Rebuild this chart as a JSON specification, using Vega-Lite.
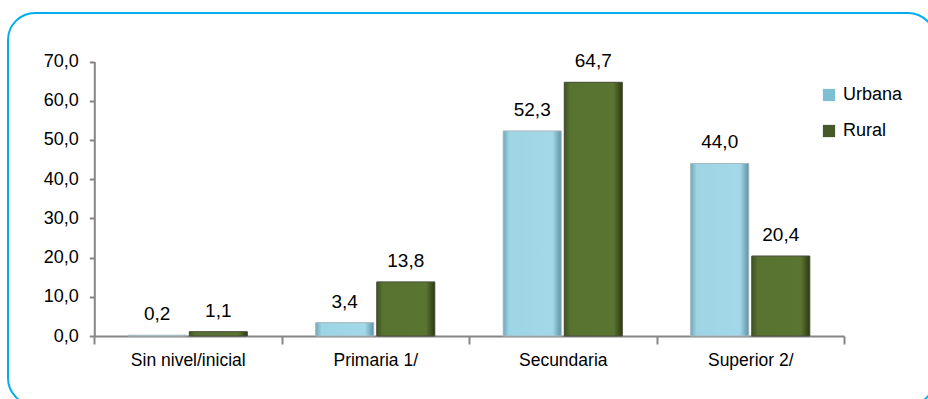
{
  "$schema": "https://vega.github.io/schema/vega-lite/v6.json",
  "autosize": {"type": "none"},
  "padding": {"left": 8, "top": 13, "right": -7, "bottom": -6},
  "width": 927,
  "height": 392,
  "config": {
    "font": "Liberation Sans",
    "locale": {"number": {"decimal": ",", "thousands": ".", "grouping": [3], "currency": ["", ""]}},
    "view": {"stroke": "#00AEEF", "strokeWidth": 2, "cornerRadius": 27, "fill": "white"},
    "axis": {"domainColor": "#868686", "tickColor": "#868686", "domainWidth": 2, "tickWidth": 2, "labelColor": "#000000", "grid": false, "title": null}
  },
  "data": {
    "values": [
      {"nivel": "Sin nivel/inicial", "area": "Urbana", "pct": 0.2},
      {"nivel": "Sin nivel/inicial", "area": "Rural", "pct": 1.1},
      {"nivel": "Primaria 1/", "area": "Urbana", "pct": 3.4},
      {"nivel": "Primaria 1/", "area": "Rural", "pct": 13.8},
      {"nivel": "Secundaria", "area": "Urbana", "pct": 52.3},
      {"nivel": "Secundaria", "area": "Rural", "pct": 64.7},
      {"nivel": "Superior 2/", "area": "Urbana", "pct": 44.0},
      {"nivel": "Superior 2/", "area": "Rural", "pct": 20.4}
    ]
  },
  "encoding": {
    "x": {
      "field": "nivel", "type": "nominal", "sort": null,
      "scale": {"range": [86, 836], "paddingInner": 0, "paddingOuter": 0},
      "axis": {"offset": -69, "tickBand": "extent", "tickSize": 8, "labelAngle": 0, "labelFontSize": 17.5, "labelPadding": 7, "title": null}
    },
    "xOffset": {
      "field": "area", "type": "nominal",
      "scale": {"domain": ["Urbana", "Rural"], "paddingInner": 0.05, "paddingOuter": 0.56}
    },
    "y": {
      "field": "pct", "type": "quantitative",
      "scale": {"domain": [0, 70], "range": [323, 48.5], "nice": false},
      "axis": {"offset": -86.3, "values": [0, 10, 20, 30, 40, 50, 60, 70], "format": ".1f", "tickSize": 5, "labelFontSize": 18, "labelPadding": 11, "title": null}
    }
  },
  "layer": [
    {
      "mark": {"type": "bar"},
      "encoding": {
        "color": {
          "field": "area", "type": "nominal",
          "scale": {"domain": ["Urbana", "Rural"], "range": ["#7FBFD3", "#46592A"]},
          "legend": {"orient": "none", "legendX": 812, "legendY": 73, "title": null, "symbolType": "square", "symbolSize": 150, "labelFontSize": 18, "labelOffset": 5, "rowPadding": 18, "symbolStrokeWidth": 0}
        }
      }
    },
    {
      "transform": [{"filter": "datum.area === 'Urbana'"}],
      "mark": {
        "type": "bar",
        "stroke": "#A9B8BD",
        "strokeWidth": 1,
        "fill": {"gradient": "linear", "x1": 0, "y1": 0, "x2": 1, "y2": 0,
          "stops": [
            {"offset": 0, "color": "#6FA6BA"},
            {"offset": 0.1, "color": "#9ED5E5"},
            {"offset": 0.85, "color": "#A2D8E8"},
            {"offset": 1, "color": "#5E93A6"}
          ]}
      },
      "encoding": {}
    },
    {
      "transform": [{"filter": "datum.area === 'Rural'"}],
      "mark": {
        "type": "bar",
        "stroke": "#4A4F3C",
        "strokeWidth": 1,
        "fill": {"gradient": "linear", "x1": 0, "y1": 0, "x2": 1, "y2": 0,
          "stops": [
            {"offset": 0, "color": "#3F5320"},
            {"offset": 0.1, "color": "#587230"},
            {"offset": 0.85, "color": "#5A7431"},
            {"offset": 1, "color": "#2C3A12"}
          ]}
      },
      "encoding": {}
    },
    {
      "mark": {"type": "text", "baseline": "alphabetic", "dy": -15, "fontSize": 19, "color": "#000000"},
      "encoding": {
        "text": {"field": "pct", "type": "quantitative", "format": ".1f"}
      }
    }
  ]
}
